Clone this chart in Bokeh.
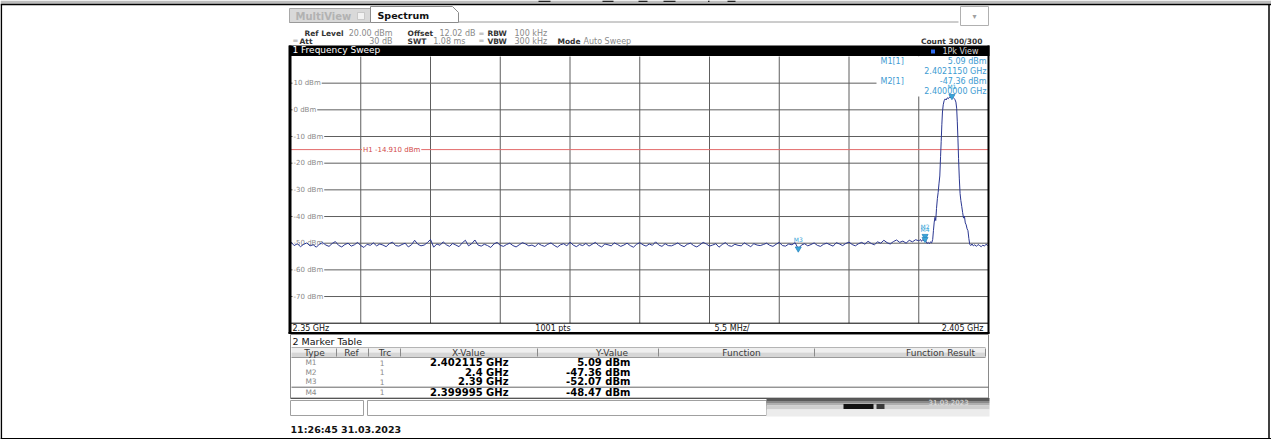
import numpy as np
from bokeh.plotting import figure
from bokeh.models import Range1d
from bokeh.embed import file_html
from bokeh.resources import INLINE
from bokeh.core.properties import value

# ---------------- data ----------------
start_ghz = 2.35
stop_ghz = 2.405
ref_level_dbm = 20.0
bottom_dbm = -80.0

grid_freqs_ghz = [2.3555, 2.361, 2.3665, 2.372, 2.3775, 2.383, 2.3885, 2.394, 2.3995]
level_ticks = [10, 0, -10, -20, -30, -40, -50, -60, -70]
level_labels = ["10 dBm", "0 dBm", "-10 dBm", "-20 dBm", "-30 dBm",
                "-40 dBm", "-50 dBm", "-60 dBm", "-70 dBm"]
h1_level = -14.91
h1_label = "H1 -14.910 dBm"

# noise floor, one value every 0.25 MHz from 2.35 GHz up to 2.3995 GHz
noise_step_ghz = 0.00025
noise_dbm = [
    -49.6, -50.9, -50.2, -51.3, -50.4, -49.9, -51.0, -50.6, -51.5, -50.3,
    -49.8, -50.7, -51.2, -50.1, -49.4, -50.8, -51.4, -50.5, -50.0, -51.1,
    -50.6, -49.7, -50.9, -51.6, -50.4, -50.8, -49.9, -51.0, -50.3, -50.7,
    -51.3, -50.2, -49.6, -50.9, -51.1, -50.5, -50.0, -51.4, -50.6, -48.9,
    -50.4, -51.0, -50.7, -49.8, -48.6, -51.5, -50.3, -50.8, -49.5, -50.6,
    -51.2, -50.1, -50.7, -51.3, -49.9, -48.9, -51.0, -50.2, -48.8, -50.7,
    -51.1, -50.4, -50.9, -51.6, -50.3, -49.7, -50.8, -51.2, -50.5, -50.0,
    -50.9, -51.4, -50.6, -49.8, -50.3, -51.0, -50.7, -51.3, -50.1, -50.8,
    -51.2, -50.4, -49.9, -50.8, -51.5, -50.6, -50.2, -51.0, -49.6, -50.7,
    -51.3, -50.5, -50.9, -50.1, -51.1, -50.4, -49.7, -50.8, -51.4, -50.3,
    -50.6, -51.0, -49.9, -50.5, -51.2, -50.7, -50.0, -50.9, -51.5, -50.4,
    -49.8, -50.6, -51.1, -50.3, -50.8, -49.5, -50.7, -51.2, -50.2, -50.9,
    -51.0, -50.5, -49.9, -50.8, -51.3, -50.4, -50.0, -50.9, -51.4, -50.6,
    -49.7, -50.3, -51.1, -50.7, -50.2, -51.5, -50.5, -49.8, -50.9, -51.2,
    -50.4, -50.8, -51.0, -49.9, -50.6, -51.3, -50.2, -50.7, -50.9, -50.5,
    -50.0, -50.8, -51.2, -50.4, -49.7, -50.9, -51.1, -50.3, -50.6, -49.8,
    -52.1, -50.7, -50.2, -51.0, -50.5, -49.9, -50.8, -51.2, -50.4, -50.0,
    -50.6, -51.1, -49.8, -50.3, -50.9, -50.1, -49.6, -50.5, -51.0, -50.2,
    -49.7, -50.4, -49.3, -50.1, -50.6, -49.5, -50.0, -48.9, -49.8, -50.3,
    -49.4, -48.8, -49.7, -49.2, -50.0, -48.9, -49.5, -48.7, -49.1,
]

# carrier region
signal_freq_ghz = [
    2.39955, 2.39963, 2.39972, 2.39980, 2.39990, 2.399995, 2.40000, 2.40008,
    2.40016, 2.40025, 2.40034, 2.40043, 2.40052, 2.40060, 2.40066, 2.40072,
    2.40078, 2.40084, 2.40090, 2.40097, 2.40103, 2.40110, 2.40116, 2.40122,
    2.40127, 2.40132, 2.40137, 2.40143, 2.40150, 2.40158, 2.40166, 2.40175,
    2.40184, 2.40193, 2.40202, 2.402115, 2.40220, 2.40228, 2.40236, 2.40243,
    2.40249, 2.40254, 2.40259, 2.40264, 2.40270, 2.40276, 2.40282, 2.40289,
    2.40296, 2.40303, 2.40310, 2.40317, 2.40324, 2.40331, 2.40338, 2.40345,
    2.40352, 2.40360, 2.40370, 2.40380, 2.40392, 2.40405, 2.40418, 2.40430,
    2.40443, 2.40455, 2.40468, 2.40480, 2.40492, 2.40500,
]
signal_dbm = [
    -49.0, -48.6, -49.3, -48.7, -49.1, -48.47, -47.36, -49.4,
    -50.1, -49.7, -50.2, -49.5, -49.9, -48.6, -45.2, -42.1,
    -40.3, -41.5, -37.0, -33.2, -31.0, -27.5, -24.8, -17.5,
    -11.8, -5.6, -0.8, 1.9, 3.4, 4.1, 3.7, 4.5,
    4.2, 4.8, 4.6, 5.09, 4.7, 4.3, 3.8, 2.9,
    0.6, -4.5, -10.8, -18.3, -25.9, -31.4, -34.0, -36.2,
    -38.5, -40.6, -39.8, -42.4, -43.1, -44.6, -45.3, -48.2,
    -50.4, -50.9, -50.3, -51.0, -50.6, -51.2, -50.5, -50.9,
    -51.3, -50.7, -51.1, -50.4, -50.8, -51.0,
]

marker_names = ["M1", "M2", "M3", "M4"]
marker_freq_ghz = [2.402115, 2.4, 2.39, 2.399995]
marker_dbm = [5.09, -47.36, -52.07, -48.47]
marker_x_text = ["2.402115 GHz", "2.4 GHz", "2.39 GHz", "2.399995 GHz"]
marker_y_text = ["5.09 dBm", "-47.36 dBm", "-52.07 dBm", "-48.47 dBm"]
marker_trc = ["1", "1", "1", "1"]

info_lines_left = ["M1[1]", "", "M2[1]", ""]
info_lines_right = ["5.09 dBm", "2.4021150 GHz", "-47.36 dBm", "2.4000000 GHz"]

table_headers = ["Type", "Ref", "Trc", "X-Value", "Y-Value", "Function", "Function Result"]

trace_freq = [start_ghz + i * noise_step_ghz for i in range(len(noise_dbm))] + signal_freq_ghz
trace_dbm = noise_dbm + signal_dbm

# ---------------- layout (page pixel coordinates) ----------------
W, H = 1271, 439
PL, PR, PT, PB = 290.5, 988.0, 56.0, 322.7
ghz_per_px = (stop_ghz - start_ghz) / (PR - PL)
db_per_px = (ref_level_dbm - bottom_dbm) / (PB - PT)

p = figure(width=W, height=H, output_backend="svg", toolbar_location=None,
           x_range=Range1d(0, W), y_range=Range1d(H, 0),
           x_axis_location=None, y_axis_location=None,
           min_border=0, outline_line_color=None,
           background_fill_color="white", border_fill_color="white")
p.grid.visible = False
p.extra_x_ranges = {"freq": Range1d(start_ghz - PL * ghz_per_px,
                                    start_ghz + (W - PL) * ghz_per_px)}
p.extra_y_ranges = {"dbm": Range1d(ref_level_dbm - (H - PT) * db_per_px,
                                   ref_level_dbm + PT * db_per_px)}

FONT = "DejaVu Sans"


def box(x0, x1, y0, y1, fill, line=None, lw=1.0):
    p.quad(left=[x0], right=[x1], top=[y0], bottom=[y1], fill_color=fill,
           line_color=line, line_width=lw)


def seg(x0, y0, x1, y1, color, lw=1.0):
    p.segment(x0=[x0], y0=[y0], x1=[x1], y1=[y1], line_color=color, line_width=lw)


def txt(x, y, s, size, color="#000000", bold=False, align="left", font=FONT):
    p.text(x=[x], y=[y], text=[s], text_font=value(font),
           text_font_size=f"{size}px", text_color=color,
           text_font_style="bold" if bold else "normal",
           text_align=align, text_baseline="middle")


# document frame and the cut-off caption row above
box(0, W, 0, 3.3, "#bdbdbd")
for (x0, x1) in [(538, 550), (602, 613), (638, 647), (663, 675), (707.5, 709), (727, 735)]:
    box(x0, x1, 0, 1.6, "#222222")
seg(0, 4, W, 4, "#000000", 1.5)
seg(0.8, 4, 0.8, H, "#000000", 1.6)
seg(1268.5, 4, 1268.5, H, "#000000", 1.5)
seg(0, 438.3, W, 438.3, "#000000", 1.4)

# ---- tabs ----
box(289, 370, 8, 22, "#d9d9d9", "#a8a8a8")
txt(295, 15.5, "MultiView", 10, "#b2b2b2", bold=True)
box(357, 364, 12, 19, "#f2f2f2", "#c0c0c0", 0.8)
p.patch(x=[370, 370, 452, 458, 458], y=[22, 6, 6, 12, 22], fill_color="white",
        line_color="#8c8c8c", line_width=1)
txt(377, 14.8, "Spectrum", 9.5, "#111111", bold=True)
seg(458, 21.5, 958, 21.5, "#9a9a9a")
seg(289, 22, 370, 22, "#9a9a9a")
box(960, 988, 6, 25, "white", "#b0b0b0")
txt(974, 15.5, "▾", 8, "#a0a0a0", align="center")

# ---- header rows ----
txt(304, 33, "Ref Level", 7.5, "#333333", bold=True)
txt(392, 33, "20.00 dBm", 8, "#8a8a8a", align="right")
txt(407, 33, "Offset", 7.5, "#333333", bold=True)
txt(475, 33, "12.02 dB", 8, "#8a8a8a", align="right")
txt(478, 33, "=", 7, "#9a9a9a")
txt(487, 33, "RBW", 7.5, "#333333", bold=True)
txt(514, 33, "100 kHz", 8, "#8a8a8a")
txt(292, 40.5, "=", 7, "#9a9a9a")
txt(299, 40.5, "Att", 7.5, "#333333", bold=True)
txt(392, 40.5, "30 dB", 8, "#8a8a8a", align="right")
txt(407, 40.5, "SWT", 7.5, "#333333", bold=True)
txt(465, 40.5, "1.08 ms", 8, "#8a8a8a", align="right")
txt(478, 40.5, "=", 7, "#9a9a9a")
txt(487, 40.5, "VBW", 7.5, "#333333", bold=True)
txt(514, 40.5, "300 kHz", 8, "#8a8a8a")
txt(557, 40.5, "Mode", 7.5, "#333333", bold=True)
txt(583, 40.5, "Auto Sweep", 8, "#8a8a8a")
txt(982, 40.5, "Count 300/300", 7.5, "#333333", bold=True, align="right")

# ---- black title bar ----
box(288.5, 989, 45, 55.5, "#000000")
txt(292, 49.8, "1 Frequency Sweep", 9, "white")
box(930.5, 934.5, 49, 53, "#2f6cf0")
txt(978, 51.2, "1Pk View", 8, "#d8d8d8", align="right")

# ---- diagram ----
box(PL, PR, PT, PB, "white")
p.segment(x0=grid_freqs_ghz, x1=grid_freqs_ghz,
          y0=[ref_level_dbm] * len(grid_freqs_ghz), y1=[bottom_dbm] * len(grid_freqs_ghz),
          x_range_name="freq", y_range_name="dbm", line_color="#5e5e5e", line_width=1)
p.segment(x0=[start_ghz] * len(level_ticks), x1=[stop_ghz] * len(level_ticks),
          y0=level_ticks, y1=level_ticks, x_range_name="freq", y_range_name="dbm",
          line_color="#5e5e5e", line_width=1)
p.text(x=[292] * len(level_ticks), y=level_ticks, text=level_labels, y_range_name="dbm",
       text_font=value(FONT), text_font_size="7px", text_color="#8a8a8a",
       text_baseline="middle", text_align="left",
       background_fill_color="white", padding=1)

# H1 display line
p.segment(x0=[start_ghz], x1=[stop_ghz], y0=[h1_level], y1=[h1_level],
          x_range_name="freq", y_range_name="dbm", line_color="#e36b6b", line_width=1)
p.text(x=[361.5], y=[h1_level], text=[h1_label], y_range_name="dbm",
       text_font=value(FONT), text_font_size="7px", text_color="#d24a4a",
       text_baseline="middle", text_align="left",
       background_fill_color="white", padding=1)

# marker info field
box(876, PR - 0.5, PT, 96, "white")
info_y = [61, 71, 81, 91]
p.text(x=[880] * 4, y=info_y, text=info_lines_left, text_font=value(FONT),
       text_font_size="8px", text_color="#3d9bd2", text_baseline="middle")
p.text(x=[986] * 4, y=info_y, text=info_lines_right, text_font=value(FONT),
       text_font_size="8px", text_color="#3d9bd2", text_baseline="middle", text_align="right")

# trace
p.line(x=trace_freq, y=trace_dbm, x_range_name="freq", y_range_name="dbm",
       line_color="#2b3791", line_width=1)

# markers (M2 label drawn last so it sits on top, as on the instrument)
p.scatter(x=marker_freq_ghz, y=marker_dbm, x_range_name="freq", y_range_name="dbm",
          marker="inverted_triangle", size=6, fill_color="#3aa6d8", line_color="#2a86c0",
          line_width=0.8)
label_order = [0, 2, 3, 1]
p.text(x=[marker_freq_ghz[i] for i in label_order], y=[marker_dbm[i] for i in label_order],
       text=[marker_names[i] for i in label_order], x_range_name="freq",
       y_range_name="dbm", y_offset=-6, text_font=value(FONT), text_font_size="6px",
       text_color="#3aa6d8", text_align="center", text_baseline="bottom",
       background_fill_color="white", background_fill_alpha=0.0)

# diagram frame
seg(289.5, 45, 289.5, 333, "#000000", 3)
seg(988, 45, 988, 333, "#000000", 2)
seg(PL, PB, PR, PB, "#000000", 1)

# frequency footer
txt(292, 327.8, "2.35 GHz", 8, "#111111")
txt(552.5, 327.8, "1001 pts", 8, "#111111", align="center")
txt(731.5, 327.8, "5.5 MHz/", 8, "#111111", align="center")
txt(983, 327.8, "2.405 GHz", 8, "#111111", align="right")
seg(288, 332.5, 989, 332.5, "#000000", 1.8)

# ---- marker table ----
box(290, 988, 334, 397.5, "white", "#8a8a8a")
txt(292, 340.7, "2 Marker Table", 9.5, "#111111")
box(291, 985, 347, 352, "#efefef")
box(291, 985, 352, 357, "#d6d6d6")
seg(291, 347, 985, 347, "#b4b4b4")
seg(291, 357, 985, 357, "#9a9a9a")
col_sep = [336, 368, 400, 537, 658, 814, 985]
for xs in col_sep:
    seg(xs, 348, xs, 356, "#8a8a8a")
col_centers = [314, 351, 384.5, 468, 611.5, 741, 940]
p.text(x=col_centers, y=[352] * len(table_headers), text=table_headers,
       text_font=value(FONT), text_font_size="9px", text_color="#3a3a3a",
       text_align="center", text_baseline="middle")
row_y = [362.3, 371.7, 381.0, 391.7]
seg(291, 386.7, 988, 386.7, "#666666", 1)
p.text(x=[310.5] * 4, y=row_y, text=marker_names, text_font=value(FONT),
       text_font_size="7.5px", text_color="#8a8a8a", text_align="center",
       text_baseline="middle")
p.text(x=[381.7] * 4, y=row_y, text=marker_trc, text_font=value(FONT),
       text_font_size="7.5px", text_color="#8a8a8a", text_align="center",
       text_baseline="middle")
p.text(x=[508] * 4, y=row_y, text=marker_x_text, text_font=value(FONT),
       text_font_size="10px", text_font_style="bold", text_color="#000000",
       text_align="right", text_baseline="middle")
p.text(x=[630] * 4, y=row_y, text=marker_y_text, text_font=value(FONT),
       text_font_size="10px", text_font_style="bold", text_color="#000000",
       text_align="right", text_baseline="middle")
seg(290, 398, 989, 398, "#555555", 1.2)

# ---- status bar ----
box(290, 363, 400, 415, "white", "#a0a0a0")
box(367, 766, 400, 415, "white", "#a0a0a0")
for (y0, y1, c) in [(398.5, 400.5, "#5a5a5a"), (400.5, 402.5, "#8a8a8a"),
                    (402.5, 405, "#afafaf"), (405, 409, "#cfcfcf"), (409, 416, "#ececec")]:
    box(766, 989, y0, y1, c)
box(843, 873, 403.5, 408.5, "#111111")
box(876, 884, 403.5, 408.5, "#3a3a3a")
txt(928, 401.8, "31.03.2023", 7, "#e4e4e4")

# ---- timestamp ----
txt(290, 429, "11:26:45  31.03.2023", 9.5, "#111111", bold=True)

open("out.html", "w").write(file_html(p, INLINE))
